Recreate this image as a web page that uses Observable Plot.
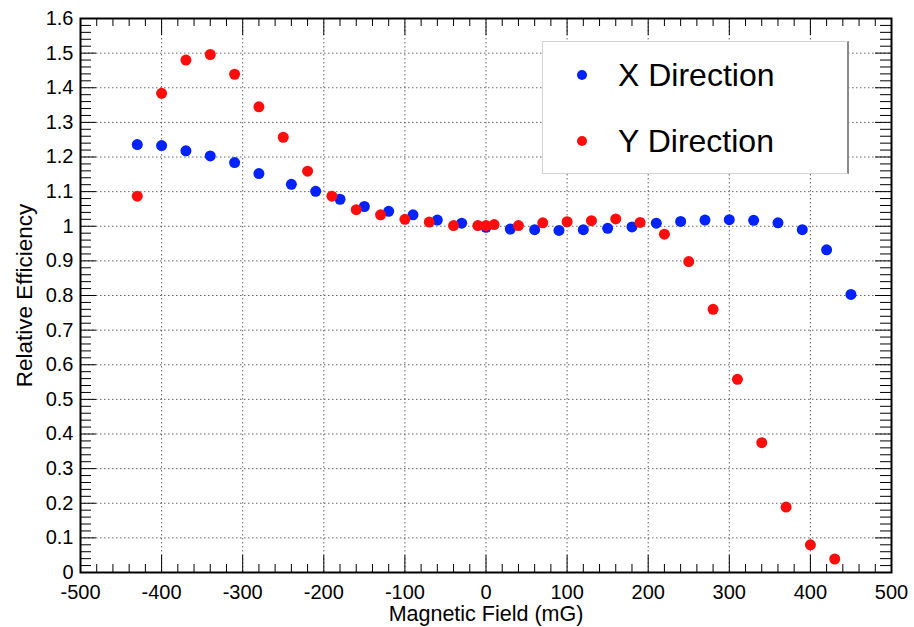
<!DOCTYPE html>
<html>
<head>
<meta charset="utf-8">
<script src="https://cdn.jsdelivr.net/npm/d3@7"></script>
<script src="https://cdn.jsdelivr.net/npm/@observablehq/plot@0.6"></script>
<style>
  body { margin: 0; background: #fff; }
  #wrap { position: relative; width: 914px; height: 627px; font-family: "Liberation Sans", Arial, Helvetica, sans-serif; }
  #legend { position: absolute; left: 542px; top: 41px; width: 307px; height: 133px; background: #fff;
            border: 1px solid #d4d4d4; border-right: 2px solid #8a8a8a; box-sizing: border-box; }
  .item { position: absolute; left: 0; width: 100%; height: 32px; }
  .dot { position: absolute; left: 34px; top: 11px; width: 10px; height: 10px; border-radius: 50%; }
  .lab { position: absolute; left: 75px; top: 0; font-size: 32px; line-height: 32px; color: #000; white-space: nowrap; }
</style>
</head>
<body>
<div id="wrap"></div>
<script>
// ---- data ----
const seriesNames = ["X Direction", "Y Direction"];
const seriesColors = ["#0022ff", "#ff0d0d"];

const fieldX = [-430,-400,-370,-340,-310,-280,-240,-210,-180,-150,-120,-90,-60,-30,0,30,60,90,120,150,180,210,240,270,300,330,360,390,420,450];
const effX   = [1.236,1.233,1.218,1.203,1.184,1.152,1.121,1.101,1.078,1.057,1.043,1.033,1.018,1.009,0.997,0.992,0.990,0.988,0.990,0.994,0.998,1.009,1.014,1.018,1.019,1.017,1.010,0.990,0.932,0.803];

const fieldY = [-430,-400,-370,-340,-310,-280,-250,-220,-190,-160,-130,-100,-70,-40,-10,0,10,40,70,100,130,160,190,220,250,280,310,340,370,400,430];
const effY   = [1.087,1.384,1.480,1.496,1.439,1.345,1.257,1.159,1.087,1.048,1.033,1.020,1.012,1.002,1.002,1.002,1.005,1.002,1.010,1.013,1.016,1.021,1.011,0.977,0.898,0.760,0.558,0.375,0.189,0.080,0.039];

const xTicks = [-500,-400,-300,-200,-100,0,100,200,300,400,500];
const xTickLabels = ["-500","-400","-300","-200","-100","0","100","200","300","400","500"];
const yTicks = [0,0.1,0.2,0.3,0.4,0.5,0.6,0.7,0.8,0.9,1,1.1,1.2,1.3,1.4,1.5,1.6];
const yTickLabels = ["0","0.1","0.2","0.3","0.4","0.5","0.6","0.7","0.8","0.9","1","1.1","1.2","1.3","1.4","1.5","1.6"];
const xTitle = "Magnetic Field (mG)";
const yTitle = "Relative Efficiency";

// ---- layout ----
const W = 914, H = 627;
const mL = 80, mR = 23, mT = 18, mB = 55;
const fw = W - mL - mR, fh = H - mT - mB;

const rowsX = fieldX.map((f, i) => ({field: f, eff: effX[i]}));
const rowsY = fieldY.map((f, i) => ({field: f, eff: effY[i]}));

const xMinor = d3.range(-500, 501, 20).filter(v => v % 100 !== 0);
const yMinor = d3.range(0, 81).map(i => i * 0.02).filter((v, i) => i % 5 !== 0);
const xGrid = xTicks.slice(1, -1);
const yGrid = yTicks.slice(1, -1);

const fmtX = d => xTickLabels[xTicks.indexOf(d)];
const fmtY = d => yTickLabels[Math.round(d * 10)];

const tickStyle = {stroke: "#000", strokeWidth: 1};
const gridStyle = {stroke: "#333", strokeWidth: 1, strokeDasharray: "1.5,2.5", strokeOpacity: 0.75};

const chart = Plot.plot({
  width: W, height: H,
  marginLeft: mL, marginRight: mR, marginTop: mT, marginBottom: mB,
  style: {fontFamily: '"Liberation Sans", Arial, Helvetica, sans-serif', fontSize: "20px", color: "#000", background: "#fff"},
  x: {domain: [-500, 500], ticks: xTicks, tickFormat: fmtX, tickSize: 0, tickPadding: 12, label: null},
  y: {domain: [0, 1.6], ticks: yTicks, tickFormat: fmtY, tickSize: 0, tickPadding: 7, label: null},
  marks: [
    Plot.ruleX(xGrid, {x: d => d, ...gridStyle}),
    Plot.ruleY(yGrid, {y: d => d, ...gridStyle}),
    // inward ticks: left / right
    Plot.tickY(yTicks, {y: d => d, insetRight: fw - 16, ...tickStyle}),
    Plot.tickY(yMinor, {y: d => d, insetRight: fw - 11, ...tickStyle}),
    Plot.tickY(yTicks, {y: d => d, insetLeft: fw - 16, ...tickStyle}),
    Plot.tickY(yMinor, {y: d => d, insetLeft: fw - 11, ...tickStyle}),
    // inward ticks: bottom / top
    Plot.tickX(xTicks, {x: d => d, insetTop: fh - 17, ...tickStyle}),
    Plot.tickX(xMinor, {x: d => d, insetTop: fh - 8, ...tickStyle}),
    Plot.tickX(xTicks, {x: d => d, insetBottom: fh - 17, ...tickStyle}),
    Plot.tickX(xMinor, {x: d => d, insetBottom: fh - 8, ...tickStyle}),
    Plot.frame({stroke: "#000", strokeWidth: 2}),
    Plot.dot(rowsX, {x: "field", y: "eff", r: 5.5, fill: seriesColors[0], stroke: null}),
    Plot.dot(rowsY, {x: "field", y: "eff", r: 5.5, fill: seriesColors[1], stroke: null}),
    Plot.text([xTitle], {text: d => d, frameAnchor: "bottom", textAnchor: "middle", dy: 42, lineAnchor: "middle", fontSize: 21.5, fill: "#000"}),
    Plot.text([yTitle], {text: d => d, frameAnchor: "left", textAnchor: "middle", dx: -56, rotate: -90, lineAnchor: "middle", fontSize: 22.5, fill: "#000"})
  ]
});

const wrap = document.getElementById("wrap");
wrap.appendChild(chart);

// legend (HTML overlay inside the plot frame)
const legend = document.createElement("div");
legend.id = "legend";
const tops = [17, 83];
seriesNames.forEach((name, i) => {
  const item = document.createElement("div");
  item.className = "item";
  item.style.top = tops[i] + "px";
  const dot = document.createElement("span");
  dot.className = "dot";
  dot.style.background = seriesColors[i];
  const lab = document.createElement("span");
  lab.className = "lab";
  lab.textContent = name;
  item.appendChild(dot);
  item.appendChild(lab);
  legend.appendChild(item);
});
wrap.appendChild(legend);
</script>
</body>
</html>
